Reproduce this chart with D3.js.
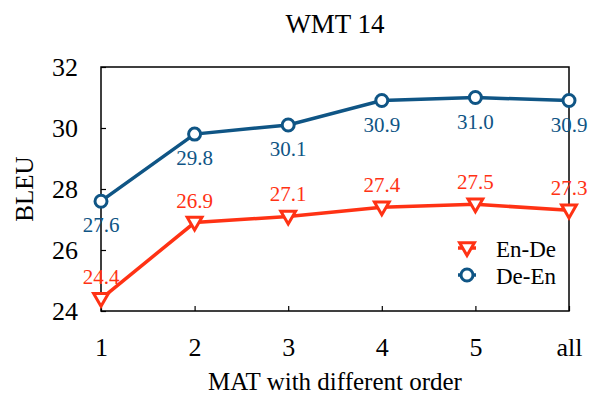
<!DOCTYPE html>
<html>
<head>
<meta charset="utf-8">
<script src="https://cdn.jsdelivr.net/npm/d3@7"></script>
<style>
  body { margin: 0; background: #fff; }
  svg { display: block; font-family: "Liberation Serif", "Times New Roman", serif; }
</style>
</head>
<body>
<div id="chart"></div>
<script>
const categories = ["1", "2", "3", "4", "5", "all"];
const enDe = [24.4, 26.9, 27.1, 27.4, 27.5, 27.3];
const deEn = [27.6, 29.8, 30.1, 30.9, 31.0, 30.9];
const yTicks = [24, 26, 28, 30, 32];

const red = "#ff3214";
const blue = "#0f5585";

const width = 590, height = 397;
const margin = { top: 67, right: 21, bottom: 86, left: 101 };

const svg = d3.select("#chart").append("svg")
    .attr("width", width)
    .attr("height", height);

const x = d3.scalePoint()
    .domain(categories)
    .range([margin.left, width - margin.right]);

const y = d3.scaleLinear()
    .domain([24, 32])
    .range([height - margin.bottom, margin.top]);

// title
svg.append("text")
    .attr("x", (margin.left + width - margin.right) / 2)
    .attr("y", 33)
    .attr("text-anchor", "middle")
    .attr("font-size", 27)
    .text("WMT 14");

// axes, ticks pointing inward
const xAxis = svg.append("g")
    .attr("transform", `translate(0,${height - margin.bottom})`)
    .call(d3.axisBottom(x).tickSizeInner(-5).tickSizeOuter(0).tickPadding(27));
const yAxis = svg.append("g")
    .attr("transform", `translate(${margin.left},0)`)
    .call(d3.axisLeft(y).tickValues(yTicks).tickSizeInner(-5).tickSizeOuter(0).tickPadding(23));

[xAxis, yAxis].forEach(g => {
  g.attr("font-family", null);
  g.select(".domain").remove();
  g.selectAll("line").attr("stroke", "#000").attr("stroke-width", 1.2);
  g.selectAll("text").attr("font-size", 26).attr("fill", "#000");
});
yAxis.selectAll("text").attr("dy", "0.34em");

// frame
svg.append("rect")
    .attr("x", margin.left)
    .attr("y", margin.top)
    .attr("width", width - margin.right - margin.left)
    .attr("height", height - margin.bottom - margin.top)
    .attr("fill", "none")
    .attr("stroke", "#000")
    .attr("stroke-width", 1.5);

// axis titles
svg.append("text")
    .attr("x", (margin.left + width - margin.right) / 2)
    .attr("y", 390)
    .attr("text-anchor", "middle")
    .attr("font-size", 25)
    .text("MAT with different order");

svg.append("text")
    .attr("transform", `translate(33,${(margin.top + height - margin.bottom) / 2}) rotate(-90)`)
    .attr("text-anchor", "middle")
    .attr("font-size", 25)
    .text("BLEU");

const line = d3.line()
    .x((d, i) => x(categories[i]))
    .y(d => y(d));

const triangle = d3.symbol().type(d3.symbolTriangle).size(95);

function drawSeries(values, color, marker, labelDy) {
  svg.append("path")
      .datum(values)
      .attr("fill", "none")
      .attr("stroke", color)
      .attr("stroke-width", 3.5)
      .attr("d", line);

  const pts = svg.append("g").selectAll("g")
    .data(values)
    .join("g")
      .attr("transform", (d, i) => `translate(${x(categories[i])},${y(d)})`);

  if (marker === "circle") {
    pts.append("circle")
        .attr("r", 6)
        .attr("fill", "#fff")
        .attr("stroke", color)
        .attr("stroke-width", 3);
  } else {
    pts.append("path")
        .attr("d", triangle)
        .attr("transform", "translate(0,-1) rotate(180)")
        .attr("fill", "#fff")
        .attr("stroke", color)
        .attr("stroke-width", 3);
  }

  pts.append("text")
      .attr("y", labelDy)
      .attr("text-anchor", "middle")
      .attr("font-size", 21)
      .attr("fill", color)
      .text(d => d.toFixed(1));
}

drawSeries(enDe, red, "triangle", -15);
drawSeries(deEn, blue, "circle", 31);

// legend
const legendItems = [
  { name: "En-De", color: red, marker: "triangle" },
  { name: "De-En", color: blue, marker: "circle" }
];
const legend = svg.append("g").selectAll("g")
  .data(legendItems)
  .join("g")
    .attr("transform", (d, i) => `translate(467,${248 + i * 27})`);

legend.append("line")
    .attr("x1", -9).attr("x2", 9)
    .attr("stroke", d => d.color)
    .attr("stroke-width", 3.5);
legend.each(function(d) {
  const g = d3.select(this);
  if (d.marker === "circle") {
    g.append("circle").attr("r", 6).attr("fill", "#fff")
      .attr("stroke", d.color).attr("stroke-width", 3);
  } else {
    g.append("path").attr("d", triangle)
      .attr("transform", "translate(0,-1) rotate(180)")
      .attr("fill", "#fff").attr("stroke", d.color).attr("stroke-width", 3);
  }
});
legend.append("text")
    .attr("x", 29)
    .attr("y", 9)
    .attr("font-size", 23)
    .text(d => d.name);
</script>
</body>
</html>
